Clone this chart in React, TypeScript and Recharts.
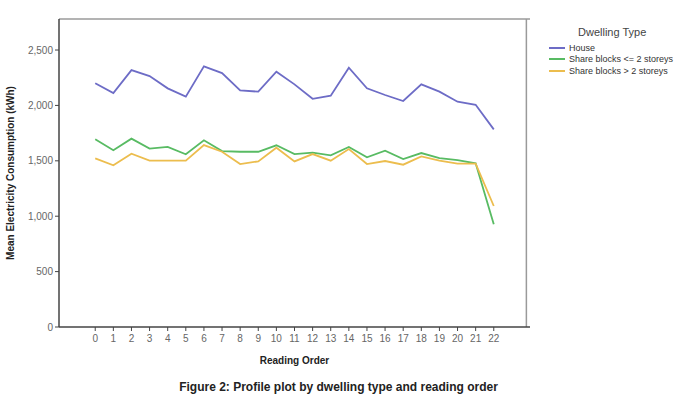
import React from "react";
import { LineChart, Line, XAxis, YAxis, ReferenceLine } from "recharts";

const readingOrder = [0, 1, 2, 3, 4, 5, 6, 7, 8, 9, 10, 11, 12, 13, 14, 15, 16, 17, 18, 19, 20, 21, 22];
const house = [2200, 2112, 2319, 2265, 2154, 2079, 2353, 2292, 2136, 2124, 2304, 2190, 2060, 2088, 2340, 2154, 2094, 2040, 2190, 2124, 2033, 2006, 1784];
const shareLow = [1694, 1595, 1700, 1610, 1625, 1559, 1685, 1588, 1582, 1582, 1640, 1561, 1573, 1550, 1625, 1531, 1591, 1516, 1570, 1525, 1507, 1477, 927];
const shareHigh = [1522, 1459, 1564, 1501, 1501, 1501, 1642, 1582, 1471, 1495, 1618, 1495, 1561, 1501, 1606, 1471, 1498, 1465, 1540, 1501, 1474, 1474, 1092];
const yTicks = [0, 500, 1000, 1500, 2000, 2500];

const series = [
  { key: "house", name: "House", color: "#6d6cc6" },
  { key: "low", name: "Share blocks <= 2 storeys", color: "#58bb63" },
  { key: "high", name: "Share blocks > 2 storeys", color: "#ecbd4e" },
];

const data = readingOrder.map((r, i) => ({
  order: r,
  house: house[i],
  low: shareLow[i],
  high: shareHigh[i],
}));

const font = "'Liberation Sans', Arial, sans-serif";
const X_MIN = -1.8;
const X_MAX = 23.8;
const Y_MAX = 2780;

// legend sits outside the plot, SPSS style
function LegendBox() {
  return (
    <div style={{ position: "absolute", left: 549, top: 25, fontFamily: font, color: "#333", fontSize: 9 }}>
      <div style={{ fontSize: 11, color: "#444", marginLeft: 29, marginBottom: 3, lineHeight: "14px" }}>Dwelling Type</div>
      {series.map((s) => (
        <div key={s.key} style={{ display: "flex", alignItems: "center", height: 11.5, whiteSpace: "nowrap" }}>
          <span style={{ display: "inline-block", width: 16, height: 2, background: s.color, marginRight: 4 }} />
          <span>{s.name}</span>
        </div>
      ))}
    </div>
  );
}

export default function App() {
  return (
    <div style={{ position: "absolute", left: 0, top: 0, width: 677, height: 409, background: "#fff" }}>
      <LineChart width={677} height={409} data={data} margin={{ top: 19, right: 147, left: 9, bottom: 39 }}>
        {/* frame: top and right edges */}
        <ReferenceLine y={Y_MAX} stroke="#9a9a9a" strokeWidth={1.5} ifOverflow="visible" />
        <ReferenceLine x={X_MAX} stroke="#9a9a9a" strokeWidth={1.5} ifOverflow="visible" />
        <XAxis
          dataKey="order"
          type="number"
          domain={[X_MIN, X_MAX]}
          ticks={readingOrder}
          interval={0}
          allowDecimals={false}
          tickSize={4}
          tickMargin={4}
          height={43}
          axisLine={{ stroke: "#444", strokeWidth: 1.5 }}
          tickLine={{ stroke: "#444" }}
          tick={{ fill: "#666", fontSize: 10, fontFamily: font }}
          label={{ value: "Reading Order", position: "insideBottom", offset: 6, fill: "#222", fontSize: 10, fontWeight: "bold", fontFamily: font }}
        />
        <YAxis
          type="number"
          domain={[0, Y_MAX]}
          ticks={yTicks}
          width={50}
          tickSize={4}
          tickMargin={2}
          axisLine={{ stroke: "#444", strokeWidth: 1.5 }}
          tickLine={{ stroke: "#444" }}
          tick={{ fill: "#666", fontSize: 10, fontFamily: font }}
          tickFormatter={(v: number) => v.toLocaleString("en-US")}
          label={{ value: "Mean Electricity Consumption (kWh)", angle: -90, position: "insideLeft", offset: 1, fill: "#222", fontSize: 10, fontWeight: "bold", fontFamily: font, style: { textAnchor: "middle" } }}
        />
        {series.map((s) => (
          <Line
            key={s.key}
            dataKey={s.key}
            name={s.name}
            stroke={s.color}
            strokeWidth={1.8}
            dot={false}
            activeDot={false}
            type="linear"
            isAnimationActive={false}
          />
        ))}
      </LineChart>
      <LegendBox />
      <div
        style={{
          position: "absolute",
          top: 380,
          left: 0,
          width: 677,
          textAlign: "center",
          fontFamily: font,
          fontWeight: "bold",
          fontSize: 12,
          color: "#222",
        }}
      >
        Figure 2: Profile plot by dwelling type and reading order
      </div>
    </div>
  );
}
